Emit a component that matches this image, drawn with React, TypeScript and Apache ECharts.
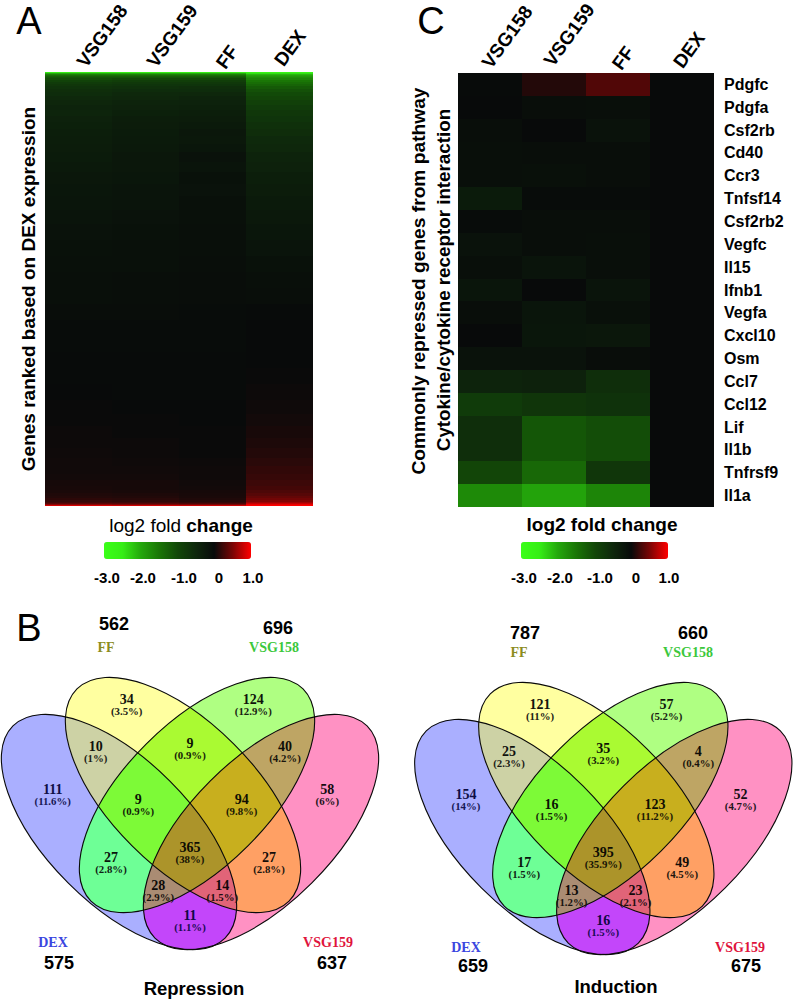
import React, { useEffect, useRef } from "react";
import * as echarts from "echarts";

const SANS = '"Liberation Sans", Arial, sans-serif';
const SERIF = '"Liberation Serif", "Times New Roman", serif';

// ---------- Panel A: genes ranked on DEX expression ----------
const columnsA = ["VSG158", "VSG159", "FF", "DEX"];
// row boundaries along the ranked gene list
const rankEdges = [0,1,2,3,4,5,6,8,10,12,14,17,20,24,28,33,38,44,50,57,64,72,80,90,100,112,124,138,152,168,184,200,216,232,248,264,280,296,312,328,342,354,366,376,386,394,402,408,414,418,421,424,426,428,430,431,432,433,434];
const vsg158A = [-2.5,-2.0,-1.6,-1.4,-1.25,-1.15,-1.05,-0.9,-0.8,-0.72,-0.66,-0.6,-0.56,-0.5,-0.46,-0.42,-0.44,-0.38,-0.36,-0.34,-0.32,-0.3,-0.28,-0.25,-0.22,-0.2,-0.18,-0.17,-0.14,-0.12,-0.1,-0.08,-0.08,-0.05,-0.04,-0.03,-0.02,-0.01,0,0.01,0.01,0.02,0.02,0.03,0.04,0.04,0.05,0.06,0.07,0.08,0.1,0.12,0.16,0.2,0.26,0.36,0.55,0.85];
const vsg159A = [-2.5,-2.0,-1.6,-1.4,-1.25,-1.15,-1.0,-0.85,-0.75,-0.68,-0.62,-0.56,-0.5,-0.46,-0.42,-0.38,-0.36,-0.32,-0.3,-0.28,-0.26,-0.25,-0.22,-0.22,-0.2,-0.16,-0.16,-0.13,-0.12,-0.1,-0.1,-0.07,-0.06,-0.05,-0.04,-0.03,-0.02,-0.02,-0.01,0,0.01,0.01,0.02,0.02,0.03,0.04,0.05,0.06,0.06,0.07,0.09,0.11,0.14,0.18,0.24,0.34,0.52,0.82];
const ffA = [-2.5,-2.0,-1.6,-1.4,-1.25,-1.15,-1.0,-0.85,-0.75,-0.68,-0.6,-0.56,-0.48,-0.42,-0.4,-0.36,-0.34,-0.3,-0.26,-0.22,-0.24,-0.2,-0.14,-0.16,-0.12,-0.14,-0.1,-0.1,-0.08,-0.08,-0.06,-0.05,-0.05,-0.04,-0.03,-0.03,-0.02,-0.01,-0.01,0,0,0.01,0.01,0.01,0.02,0.03,0.03,0.04,0.05,0.06,0.07,0.08,0.1,0.14,0.2,0.3,0.5,0.8];
const dexA = [-2.7,-2.4,-2.1,-1.95,-1.85,-1.75,-1.65,-1.5,-1.4,-1.3,-1.2,-1.1,-1.02,-0.95,-0.88,-0.8,-0.74,-0.68,-0.62,-0.58,-0.52,-0.48,-0.42,-0.38,-0.34,-0.3,-0.26,-0.24,-0.2,-0.16,-0.12,-0.09,-0.06,-0.02,0,0,0,0.01,0.02,0.03,0.05,0.07,0.09,0.12,0.15,0.18,0.2,0.23,0.26,0.3,0.34,0.4,0.46,0.54,0.65,0.78,0.92,1.0];

// ---------- Panel C: cytokine genes ----------
const columnsC = ["VSG158", "VSG159", "FF", "DEX"];
const genes = ["Pdgfc","Pdgfa","Csf2rb","Cd40","Ccr3","Tnfsf14","Csf2rb2","Vegfc","Il15","Ifnb1","Vegfa","Cxcl10","Osm","Ccl7","Ccl12","Lif","Il1b","Tnfrsf9","Il1a"];
const vsg158C = [-0.02,0,-0.06,-0.08,-0.08,-0.28,-0.04,-0.14,-0.08,-0.18,-0.06,0,-0.14,-0.42,-0.8,-0.6,-0.6,-0.95,-1.7];
const vsg159C = [0.12,-0.06,0,-0.07,-0.1,-0.03,-0.07,-0.06,-0.16,0,-0.18,-0.2,-0.14,-0.38,-0.7,-1.15,-1.15,-1.35,-1.95];
const ffC = [0.32,-0.08,-0.14,-0.06,-0.06,-0.04,-0.07,-0.08,-0.08,-0.16,-0.1,-0.22,-0.05,-0.6,-0.65,-1.05,-1.05,-0.72,-1.65];
const dexC = [0,0,0,0,0,0,0,0,0,0,0,0,0,0,0,0,0,0,0];

// ---------- Colour scale ----------
const scaleMin = -3;
const scaleMax = 1;
const scaleStops = ["#3aff18","#36ee16","#24a80c","#1a7606","#124808","#0e280c","#080a0a","#7a0505","#ff0000"];
const scaleLabels = ["-3.0","-2.0","-1.0","0","1.0"];

// ---------- Panel B: Venn counts ----------
// set bit masks: DEX=1, FF=2, VSG158=4, VSG159=8
const repressionCounts = ["34","124","10","9","40","111","9","94","58","27","365","27","28","14","11"];
const repressionPct = ["(3.5%)","(12.9%)","(1%)","(0.9%)","(4.2%)","(11.6%)","(0.9%)","(9.8%)","(6%)","(2.8%)","(38%)","(2.8%)","(2.9%)","(1.5%)","(1.1%)"];
const inductionCounts = ["121","57","25","35","4","154","16","123","52","17","395","49","13","23","16"];
const inductionPct = ["(11%)","(5.2%)","(2.3%)","(3.2%)","(0.4%)","(14%)","(1.5%)","(11.2%)","(4.7%)","(1.5%)","(35.9%)","(4.5%)","(1.2%)","(2.1%)","(1.5%)"];
const repressionTotals = { FF: "562", VSG158: "696", DEX: "575", VSG159: "637" };
const inductionTotals = { FF: "787", VSG158: "660", DEX: "659", VSG159: "675" };

// ---------- Layout ----------
const labelAnchors: number[][] = [[-63.3,699],[63.3,699],[-94.3,746.7],[0,743.3],[95,746.7],[-137.3,789],[-51.7,799.3],[51.7,799.3],[137.3,789],[-79,857.3],[0,847],[79,857.3],[-31.7,885],[32.3,885],[0,915.7]];
const labelMasks = [2,4,3,6,12,1,7,14,8,5,15,10,13,11,9];
const regionColours: Record<number, number[]> = {
  1: [170,175,255], 2: [255,255,160], 4: [175,255,130], 8: [255,145,195],
  3: [205,210,165], 6: [170,250,50], 12: [190,165,100], 5: [110,255,150], 10: [255,160,100], 9: [195,70,250],
  7: [125,250,55], 14: [200,175,30], 13: [170,140,115], 11: [225,100,120],
  15: [172,148,42],
};
const headerAnchorsA: number[][] = [[102,36],[172,36],[227,57],[290,48]];
const headerAnchorsC: number[][] = [[507,37],[569,35],[623,58],[689,50]];

const ELL_A = 150;
const ELL_B = 72;
const ellipses = [
  { mask: 1, dx: -71, y: 832, dir: 1 },
  { mask: 2, dx: -7, y: 795, dir: 1 },
  { mask: 4, dx: 7, y: 795, dir: -1 },
  { mask: 8, dx: 71, y: 832, dir: -1 },
];

type Pt = number[];
function ellipsePoly(cx: number, cy: number, dir: number): Pt[] {
  const c = Math.SQRT1_2, s = Math.SQRT1_2 * dir;
  const ux = c, uy = s, vx = -s, vy = c;
  const pts: Pt[] = [];
  for (let i = 0; i < 240; i++) {
    const t = (i / 240) * Math.PI * 2;
    const p = ELL_A * Math.cos(t), q = ELL_B * Math.sin(t);
    pts.push([cx + p * ux + q * vx, cy + p * uy + q * vy]);
  }
  return pts;
}
function clipConvex(subject: Pt[], clip: Pt[]): Pt[] {
  let out = subject;
  for (let i = 0; i < clip.length && out.length; i++) {
    const A = clip[i], B = clip[(i + 1) % clip.length];
    const side = (P: Pt) => (B[0] - A[0]) * (P[1] - A[1]) - (B[1] - A[1]) * (P[0] - A[0]);
    const input = out;
    out = [];
    for (let j = 0; j < input.length; j++) {
      const P = input[j], Q = input[(j + 1) % input.length];
      const sp = side(P), sq = side(Q);
      if (sp >= 0) out.push(P);
      if ((sp >= 0) !== (sq >= 0)) {
        const k = sp / (sp - sq);
        out.push([P[0] + (Q[0] - P[0]) * k, P[1] + (Q[1] - P[1]) * k]);
      }
    }
  }
  return out;
}
function popcount(n: number) { let c = 0; while (n) { c += n & 1; n >>= 1; } return c; }
function shade(rgb: number[], k: number, blue = 0) {
  return `rgb(${Math.round(rgb[0] * k)},${Math.round(rgb[1] * k)},${Math.round(rgb[2] * k + blue)})`;
}
function txt(text: string, x: number, y: number, font: string, fill = "#000", rotation = 0): any {
  return { type: "text", x, y, rotation, silent: true, style: { text, font, fill, align: "center", verticalAlign: "middle" } };
}

function venn(axisX: number, dy: number, counts: string[], pct: string[], totals: any, title: string, titleX: number, titleY: number, pos: any): any[] {
  const els: any[] = [];
  const polys: Record<number, Pt[]> = {};
  ellipses.forEach(e => { polys[e.mask] = ellipsePoly(axisX + e.dx, e.y + dy, e.dir); });
  const masks = Object.keys(regionColours).map(Number).sort((a, b) => popcount(a) - popcount(b));
  masks.forEach(m => {
    let poly: Pt[] | null = null;
    ellipses.forEach(e => {
      if (m & e.mask) poly = poly ? clipConvex(poly, polys[e.mask]) : polys[e.mask];
    });
    els.push({ type: "polygon", silent: true, shape: { points: poly }, style: { fill: shade(regionColours[m], 1), stroke: "none" } });
  });
  ellipses.forEach(e => {
    els.push({
      type: "ellipse", silent: true, x: axisX + e.dx, y: e.y + dy, rotation: -e.dir * Math.PI / 4,
      shape: { cx: 0, cy: 0, rx: ELL_A, ry: ELL_B },
      style: { fill: "none", stroke: "#0a0a0a", lineWidth: 1.1 },
    });
  });
  labelAnchors.forEach((a, i) => {
    const col = regionColours[labelMasks[i]];
    const baseBlue = labelMasks[i] === 1 || labelMasks[i] === 9 ? 50 : 0;
    els.push(txt(counts[i], axisX + a[0], a[1] + dy, `bold 14px ${SERIF}`, shade(col, 0.08, baseBlue)));
    els.push(txt(pct[i], axisX + a[0], a[1] + dy + 11.7, `bold 10.8px ${SERIF}`, shade(col, 0.13, baseBlue)));
  });
  const countFont = `bold 18px ${SANS}`;
  const nameFont = `bold 14px ${SERIF}`;
  els.push(txt(totals.FF, pos.ffCount[0], pos.ffCount[1], countFont));
  els.push(txt("FF", pos.ffName[0], pos.ffName[1], nameFont, "#8c8c1e"));
  els.push(txt(totals.VSG158, pos.vCount[0], pos.vCount[1], countFont));
  els.push(txt("VSG158", pos.vName[0], pos.vName[1], nameFont, "#3cc83c"));
  els.push(txt("DEX", pos.dName[0], pos.dName[1], nameFont, "#3a46e0"));
  els.push(txt(totals.DEX, pos.dCount[0], pos.dCount[1], countFont));
  els.push(txt("VSG159", pos.pName[0], pos.pName[1], nameFont, "#e0143c"));
  els.push(txt(totals.VSG159, pos.pCount[0], pos.pCount[1], countFont));
  els.push(txt(title, titleX, titleY, `bold 18.5px ${SANS}`));
  return els;
}

function colourBarTicks(xs: number[], y: number): any[] {
  return scaleLabels.map((l, i) => txt(l, xs[i], y, `bold 15px ${SANS}`));
}
function headers(names: string[], anchors: number[][]): any[] {
  return names.map((n, i) => txt(n, anchors[i][0], anchors[i][1], `bold 19px ${SANS}`, "#000", (54 * Math.PI) / 180));
}

function buildOption(): any {
  const rowsA: number[][] = [];
  [vsg158A, vsg159A, ffA, dexA].forEach((vals, col) => {
    vals.forEach((v, r) => rowsA.push([col, rankEdges[r], rankEdges[r + 1], v]));
  });
  const cellsC: number[][] = [];
  [vsg158C, vsg159C, ffC, dexC].forEach((vals, col) => {
    vals.forEach((v, r) => cellsC.push([col, r, v]));
  });
  const topAxis = {
    type: "category", position: "top",
    axisLine: { show: false }, axisTick: { show: false }, splitLine: { show: false },
    axisLabel: { show: false },
  };
  const graphic: any[] = [
    txt("A", 29, 21, `38px ${SANS}`),
    txt("B", 29, 628, `38px ${SANS}`),
    txt("C", 431, 21, `38px ${SANS}`),
    ...headers(columnsA, headerAnchorsA),
    ...headers(columnsC, headerAnchorsC),
    txt("Genes ranked based on DEX expression", 28, 289, `bold 19px ${SANS}`, "#000", Math.PI / 2),
    txt("Commonly repressed genes from pathway", 418, 281, `bold 19.2px ${SANS}`, "#000", Math.PI / 2),
    txt("Cytokine/cytokine receptor interaction", 443, 280, `bold 18.8px ${SANS}`, "#000", Math.PI / 2),
    {
      type: "text", x: 181, y: 525, silent: true,
      style: {
        text: "{a|log2 fold }{b|change}", align: "center", verticalAlign: "middle",
        rich: {
          a: { font: `19px ${SANS}`, fill: "#000" },
          b: { font: `bold 19px ${SANS}`, fill: "#000" },
        },
      },
    },
    txt("log2 fold change", 602, 524, `bold 19px ${SANS}`),
    ...colourBarTicks([107, 143, 184, 219, 253], 577),
    ...colourBarTicks([524, 560, 600, 636, 669], 577),
    ...venn(190, 0, repressionCounts, repressionPct, repressionTotals, "Repression", 194, 988, {
      ffCount: [114, 624], ffName: [106, 647], vCount: [278, 628], vName: [274, 647],
      dName: [53, 942], dCount: [59, 963], pName: [328, 942], pCount: [332, 963],
    }),
    ...venn(603.3, 5, inductionCounts, inductionPct, inductionTotals, "Induction", 616, 986, {
      ffCount: [525, 633], ffName: [519, 652], vCount: [693, 633], vName: [688, 652],
      dName: [466, 947], dCount: [473, 966], pName: [740, 947], pCount: [746, 966],
    }),
  ];
  const vm = (left: number, series: number, dim: number) => ({
    type: "continuous", min: scaleMin, max: scaleMax, orient: "horizontal",
    left, top: 542, itemWidth: 17, itemHeight: 147, padding: 0,
    seriesIndex: series, dimension: dim, calculable: false, realtime: false,
    inRange: { color: scaleStops },
  });
  return {
    animation: false,
    backgroundColor: "#fff",
    grid: [
      { left: 45, top: 72, width: 268, height: 434 },
      { left: 458, top: 73, width: 256, height: 434 },
    ],
    xAxis: [
      { ...topAxis, gridIndex: 0, data: columnsA },
      { ...topAxis, gridIndex: 1, data: columnsC },
    ],
    yAxis: [
      { type: "value", gridIndex: 0, min: 0, max: 434, inverse: true, show: false },
      {
        type: "category", gridIndex: 1, data: genes, inverse: true, position: "right",
        axisLine: { show: false }, axisTick: { show: false }, splitLine: { show: false },
        axisLabel: { interval: 0, margin: 10, color: "#000", fontFamily: SANS, fontWeight: "bold", fontSize: 16 },
      },
    ],
    visualMap: [vm(104, 0, 3), vm(521, 1, 2)],
    series: [
      {
        type: "custom", xAxisIndex: 0, yAxisIndex: 0, silent: true,
        data: rowsA,
        encode: { x: 0, y: [1, 2] },
        renderItem: (_p: any, api: any) => {
          const band = api.size([1, 0])[0];
          const top = api.coord([api.value(0), api.value(1)]);
          const bot = api.coord([api.value(0), api.value(2)]);
          return {
            type: "rect",
            shape: { x: top[0] - band / 2, y: top[1], width: band, height: bot[1] - top[1] },
            style: { fill: api.visual("color") },
          };
        },
      },
      {
        type: "custom", xAxisIndex: 1, yAxisIndex: 1, silent: true,
        data: cellsC,
        encode: { x: 0, y: 1 },
        renderItem: (_p: any, api: any) => {
          const size = api.size([1, 1]);
          const c = api.coord([api.value(0), api.value(1)]);
          const y0 = Math.round(c[1] - size[1] / 2);
          const y1 = Math.round(c[1] + size[1] / 2);
          return {
            type: "rect",
            shape: { x: c[0] - size[0] / 2, y: y0, width: size[0], height: y1 - y0 },
            style: { fill: api.visual("color") },
          };
        },
      },
    ],
    graphic: { elements: graphic },
  };
}

export default function App() {
  const ref = useRef<HTMLDivElement>(null);
  useEffect(() => {
    const chart = echarts.init(ref.current!, undefined, { renderer: "svg" });
    chart.setOption(buildOption());
    return () => chart.dispose();
  }, []);
  return <div ref={ref} style={{ position: "absolute", left: 0, top: 0, width: 793, height: 1001 }} />;
}
